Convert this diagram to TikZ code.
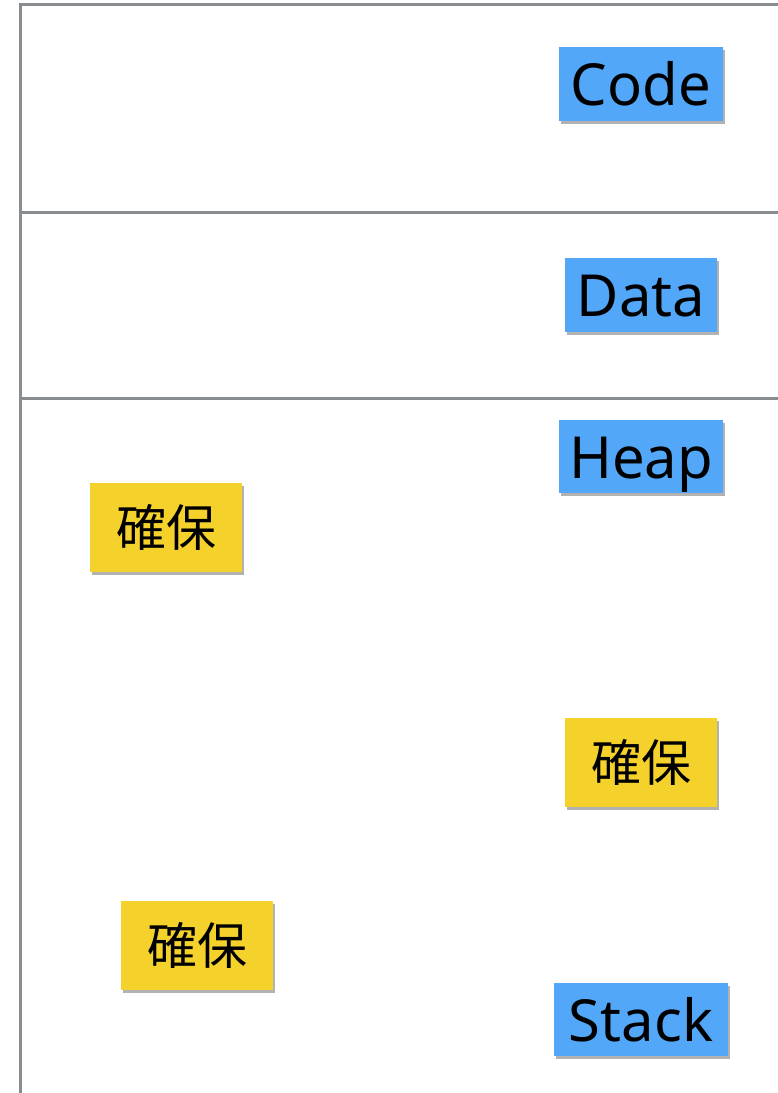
\documentclass[tikz,border=0pt]{standalone}
\usepackage{fontspec}
\setmainfont{Noto Sans CJK JP}
\newfontfamily\latinfont{Noto Sans}
\usetikzlibrary{shadows}
\definecolor{linegrey}{HTML}{8A8D90}
\definecolor{segblue}{HTML}{52A7F8}
\definecolor{segyellow}{HTML}{F5D12B}
\tikzset{
  wall/.style={draw=linegrey, line width=3pt},
  shadowbox/.style={inner sep=0pt, outer sep=0pt, text=black,
    drop shadow={shadow xshift=2pt, shadow yshift=-3pt, opacity=0.3, fill=black}},
  segbox/.style={shadowbox, fill=segblue, text height=43pt, text depth=0pt,
    font=\latinfont\fontsize{58}{60}\selectfont},
  allocbox/.style={shadowbox, fill=segyellow, minimum width=152pt, minimum height=89pt, font=\fontsize{50}{52}\selectfont},
}
\begin{document}
\begin{tikzpicture}[x=1pt, y=-1pt]
\useasboundingbox (0,0) rectangle (778,1093);
\fill[white] (0,0) rectangle (778,1093);
% frame lines
\coordinate (tl) at (20.5,4.5);
\coordinate (tr) at (778,4.5);
\coordinate (bl) at (20.5,1093);
\coordinate (l1) at (19,212.5);
\coordinate (r1) at (778,212.5);
\coordinate (l2) at (19,398.5);
\coordinate (r2) at (778,398.5);
\draw[wall] (19,4.5) -- (tr);
\draw[wall] (l1) -- (r1);
\draw[wall] (l2) -- (r2);
\draw[wall] (20.5,3) -- (bl);
% segment labels
\node[segbox, minimum width=164pt, minimum height=74pt] (code) at (641,84) {Code};
\node[segbox, minimum width=152pt, minimum height=74pt] (data) at (641,295) {Data};
\node[segbox, minimum width=164pt, minimum height=73pt] (heap) at (641,456.5) {Heap};
\node[segbox, minimum width=174pt, minimum height=73pt] (stack) at (641,1019.5) {Stack};
% allocations
\node[allocbox] (alloc1) at (166,527.5) {確保};
\node[allocbox] (alloc2) at (641,762) {確保};
\node[allocbox] (alloc3) at (197,945.5) {確保};
\end{tikzpicture}
\end{document}
